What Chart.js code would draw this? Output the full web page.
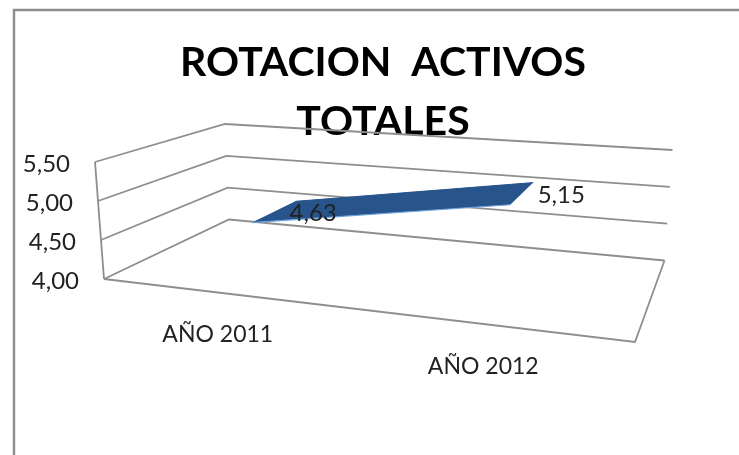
<!DOCTYPE html>
<html><head><meta charset="utf-8">
<style>html,body{margin:0;padding:0;background:#fff}canvas{display:block}</style>
<script src="https://cdn.jsdelivr.net/npm/chart.js@4/dist/chart.umd.min.js"></script>
</head><body><canvas id="c" width="739" height="455"></canvas>
<script>
const categories = ['AÑO 2011', 'AÑO 2012'];
const rotacion = [4.63, 5.15];
const valueTicks = [4, 4.5, 5, 5.5];
const titleLines = ['ROTACION  ACTIVOS', 'TOTALES'];

const FONT = 'Lato, "Open Sans", sans-serif';
const LINE = '#8e8e8e';
const TEXT = '#222222';
const RIBBON = '#27548a';
// Corners of the 3D box on the page: floor, and wall height
const box = {
  floorFL: [104, 279], floorFR: [635, 342], floorBR: [664.5, 260.5], floorBL: [229, 219.5],
  heightFL: 117, heightFR: 135, heightBL: 95.5, heightBR: 110.5,
  topFLx: 95, topBLx: 225, topBRx: 672.5
};
const lerp = (a, b, t) => a + (b - a) * t;
function project(u, v, d, lift) {
  const fx = lerp(box.floorFL[0], box.floorFR[0], u), fy = lerp(box.floorFL[1], box.floorFR[1], u);
  const bx = lerp(box.floorBL[0], box.floorBR[0], u), by = lerp(box.floorBL[1], box.floorBR[1], u);
  const h = lerp(lerp(box.heightFL, box.heightFR, u), lerp(box.heightBL, box.heightBR, u), d);
  return { x: lerp(fx, bx, d), y: lerp(fy, by, d) - h * v - (lift || 0) };
}
const ribbonDepth = [{ d: 0.15, lift: 12.8 }, { d: 0.58, lift: 10.1 }];

const box3d = {
  id: 'box3d',
  afterDatasetsUpdate(chart) {
    const a = chart.chartArea;
    chart.data.datasets.forEach((ds, i) => {
      const r = ribbonDepth[i];
      chart.getDatasetMeta(i).data.forEach(pt => {
        const p = project((pt.x - a.left) / a.width, (a.bottom - pt.y) / a.height, r.d, r.lift);
        pt.x = p.x; pt.y = p.y;
      });
    });
  },
  beforeDatasetsDraw(chart) {
    const c = chart.ctx, y = chart.scales.y;
    c.save();
    c.strokeStyle = LINE; c.lineWidth = 2.4;
    c.beginPath(); c.moveTo(14, 455); c.lineTo(14, 10); c.lineTo(739, 10); c.stroke();
    c.lineWidth = 1.8; c.lineJoin = 'miter';
    const path = pts => { c.beginPath(); pts.forEach((p, i) => i ? c.lineTo(p[0], p[1]) : c.moveTo(p[0], p[1])); c.stroke(); };
    const at = v => {
      const t = (y.getPixelForValue(v) - y.bottom) / (y.top - y.bottom);
      return [
        [lerp(box.floorFL[0], box.topFLx, t), box.floorFL[1] - box.heightFL * t],
        [lerp(box.floorBL[0], box.topBLx, t), box.floorBL[1] - box.heightBL * t],
        [lerp(box.floorBR[0], box.topBRx, t), box.floorBR[1] - box.heightBR * t]
      ];
    };
    valueTicks.forEach(v => path(at(v)));
    path([at(valueTicks[0])[0], at(valueTicks[valueTicks.length - 1])[0]]);
    path([box.floorFL, box.floorFR, box.floorBR]);
    // ribbon body between the front and back edge of the series
    const front = chart.getDatasetMeta(0).data, back = chart.getDatasetMeta(1).data;
    c.fillStyle = RIBBON;
    c.beginPath();
    front.forEach((p, i) => i ? c.lineTo(p.x, p.y) : c.moveTo(p.x, p.y));
    [...back].reverse().forEach(p => c.lineTo(p.x, p.y));
    c.closePath();
    c.fill();
    c.restore();
  },
  afterDatasetsDraw(chart) {
    const c = chart.ctx, y = chart.scales.y, x = chart.scales.x, a = chart.chartArea;
    c.save();
    c.fillStyle = TEXT; c.textBaseline = 'middle';
    c.font = '24px ' + FONT;
    c.textAlign = 'right';
    valueTicks.forEach(v => {
      const t = (y.getPixelForValue(v) - y.bottom) / (y.top - y.bottom);
      c.fillText(v.toFixed(2).replace('.', ','), lerp(box.floorFL[0], box.topFLx, t) - 25, box.floorFL[1] - box.heightFL * t + 2);
    });
    c.textAlign = 'center';
    c.font = '23px ' + FONT;
    categories.forEach((label, i) => {
      const u = (x.getPixelForValue(i) - a.left) / a.width;
      const p = project(u, 0, 0);
      c.fillText(label, p.x - 19, p.y + 40);
    });
    c.font = '24px ' + FONT;
    const front = chart.getDatasetMeta(0).data, back = chart.getDatasetMeta(1).data;
    rotacion.forEach((v, i) => {
      c.fillText(v.toFixed(2).replace('.', ','), (front[i].x + back[i].x) / 2 + 39.5, (front[i].y + back[i].y) / 2 + 1.5);
    });
    c.restore();
  }
};

new Chart(document.getElementById('c'), {
  type: 'line',
  data: {
    labels: categories,
    datasets: [
      { label: 'frente', data: rotacion, borderColor: '#6fa3dc', borderWidth: 1.2, pointRadius: 0, tension: 0, fill: false, order: 0 },
      { label: 'fondo', data: rotacion, borderColor: RIBBON, borderWidth: 1, pointRadius: 0, tension: 0, fill: false, order: 1 }
    ]
  },
  options: {
    responsive: false,
    animation: false,
    layout: { padding: { left: 27 } },
    plugins: {
      legend: { display: false },
      tooltip: { enabled: false },
      title: {
        display: true, text: titleLines, color: '#000000', align: 'center',
        font: { family: FONT, size: 41, weight: 'bold', lineHeight: 1.42 },
        padding: { top: 34, bottom: 10 }
      }
    },
    scales: {
      x: { type: 'category', offset: true, display: false },
      y: { type: 'linear', min: valueTicks[0], max: valueTicks[valueTicks.length - 1], display: false }
    }
  },
  plugins: [box3d]
});
</script></body></html>
